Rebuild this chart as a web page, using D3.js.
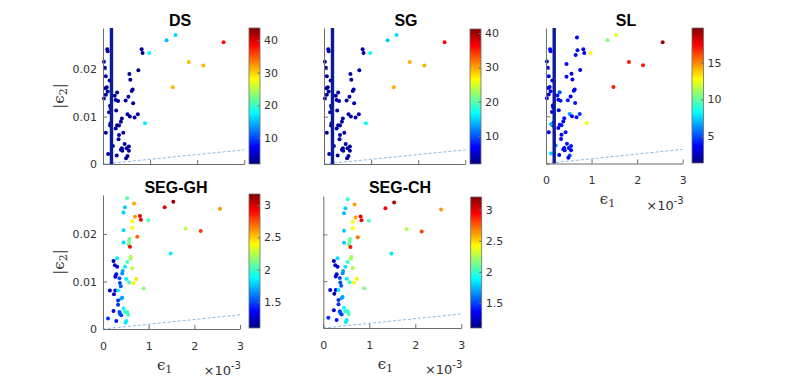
<!DOCTYPE html>
<html><head><meta charset="utf-8">
<script src="https://cdn.jsdelivr.net/npm/d3@7"></script>
<style>body{margin:0;background:#fff}svg{display:block}</style>
</head><body>
<svg id="c" width="789" height="381"></svg>
<script>
// ---------------- DATA ----------------
// epsilon_1 values are in units of 1e-3 (axis shows x10^-3), epsilon_2 in real units
const dsE1=[0.09,0.10,0.02,0.04,0.06,0.05,0.08,0.14,0.10,0.06,0.02,0.25,0.30,0.27,0.32,0.15,0.16,0.13,0.28,0.16,0.15,0.06,0.30,0.34,0.27,0.40,0.38,0.34,0.43,0.33,0.46,0.40,0.41,0.38,0.50,0.55,0.55,0.52,0.49,0.29,0.11,0.21,0.48,0.54,0.61,0.63,0.64,0.56,0.58,0.75,0.82,0.84,0.52,0.57,0.67,0.74,0.98,0.89,1.35,1.54,2.56,1.82,2.13,1.48];
const dsE2=[0.0242,0.0238,0.0216,0.0203,0.0185,0.0160,0.0162,0.0176,0.0153,0.0146,0.0138,0.0144,0.0151,0.0135,0.0133,0.0123,0.0118,0.0109,0.0113,0.0086,0.0081,0.0066,0.0082,0.0081,0.0075,0.0096,0.0089,0.0061,0.0066,0.0052,0.0042,0.0033,0.0028,0.0030,0.0033,0.0037,0.0028,0.0017,0.0012,0.0018,0.0021,0.0038,0.0134,0.0142,0.0154,0.0157,0.0128,0.0190,0.0178,0.0198,0.0242,0.0234,0.0105,0.0100,0.0098,0.0105,0.0234,0.0086,0.0261,0.0272,0.0257,0.0215,0.0208,0.0162];
const dsVal=[3,3,2.5,3,3,2.5,3,3, 3,2.5,3,3.5,3,3,3.5,3, 3,3,3,3,3,2.5,3,3.5, 3,3.5,3,3,3.5,3,3.5,3, 3,3,3.5,3.5,3,3.5,3,3, 3,3,3.5,3,3,3,3.5,3, 3,3,3,3,3.5,3,3.5,3, 17.5,17,15,16,38,31,31,31];
const sgE1=dsE1, sgE2=dsE2;
const sgVal=[3,3,2.5,3,3,2.5,3,3, 3,2.5,3,3.5,3,3,3.5,3, 3,3,3,3,3,2.5,3,3.5, 3,3.5,3,3,3.5,3,3.5,3, 3,3,3.5,3.5,3,3.5,3,3, 3,3,3.5,3,3,3,3.5,3, 3,3,3,3,3.5,3,3.5,3, 16.5,16.5,14.5,15.5,36,29.5,29.5,29.5];
const slE1=[0.09,0.10,0.02,0.04,0.06,0.05,0.08,0.14,0.10,0.06,0.02,0.25,0.30,0.27,0.32,0.15,0.16,0.13,0.28,0.16,0.15,0.06,0.30,0.34,0.27,0.40,0.38,0.34,0.43,0.33,0.46,0.40,0.41,0.38,0.50,0.55,0.55,0.52,0.49,0.29,0.11,0.21,0.48,0.54,0.61,0.63,0.64,0.56,0.58,0.75,0.82,0.84,0.52,0.57,0.67,0.74,0.68,0.69,0.65,0.45,0.45,0.11,0.98,0.89,1.35,1.54,2.56,1.82,2.13,1.48];
const slE2=[0.0242,0.0238,0.0216,0.0203,0.0185,0.0160,0.0162,0.0176,0.0153,0.0146,0.0138,0.0144,0.0151,0.0135,0.0133,0.0123,0.0118,0.0109,0.0113,0.0086,0.0081,0.0066,0.0082,0.0081,0.0075,0.0096,0.0089,0.0061,0.0066,0.0052,0.0042,0.0033,0.0028,0.0030,0.0033,0.0037,0.0028,0.0017,0.0012,0.0018,0.0021,0.0038,0.0134,0.0142,0.0154,0.0157,0.0128,0.0190,0.0178,0.0198,0.0242,0.0234,0.0105,0.0100,0.0098,0.0105,0.0267,0.0240,0.0230,0.0211,0.0184,0.0083,0.0234,0.0086,0.0261,0.0272,0.0257,0.0215,0.0208,0.0162];
const slVal=[3.5,3.5,3,3.5,3.5,3,3.5,3.5, 3.5,3,3.5,4,5,3.5,4,3.5, 3.5,3.5,3.5,3.5,3.5,3,3.5,4, 3.5,4,3.5,3.5,4,3.5,4,3.5, 3.5,3.5,4,4,3.5,5,3.5,3.5, 7.5,6,4,3.5,3.5,3.5,4,3.5, 3.5,3.5,3.5,3.5,6.5,3.5,4,4.5, 3.5,3.5,3.5,3.5,3.5,7, 12.8,12.6,10.5,12.2,19,17,17,17];
const segE1=[0.53,0.68,0.48,0.45,1.35,1.54,2.56,0.70,0.81,0.83,0.64,0.99,0.64,1.81,2.14,0.45,0.75,0.58,0.57,0.45,0.56,0.59,1.48,0.61,0.60,0.31,0.23,0.53,0.26,0.31,0.48,0.64,0.43,0.42,0.29,0.27,0.36,0.51,0.57,0.73,0.67,0.37,0.39,0.89,0.15,0.27,0.33,0.24,0.42,0.40,0.33,0.33,0.45,0.23,0.37,0.40,0.36,0.48,0.53,0.55,0.29,0.11,0.51,0.49];
const segE2=[0.0275,0.0264,0.0256,0.0245,0.0256,0.0268,0.0253,0.0236,0.0238,0.0230,0.0227,0.0229,0.0213,0.0211,0.0206,0.0208,0.0194,0.0190,0.0185,0.0182,0.0178,0.0173,0.0159,0.0152,0.0148,0.0149,0.0143,0.0141,0.0134,0.0131,0.0131,0.0128,0.0122,0.0117,0.0115,0.0110,0.0107,0.0105,0.0098,0.0105,0.0097,0.0097,0.0090,0.0085,0.0081,0.0081,0.0081,0.0073,0.0066,0.0064,0.0060,0.0051,0.0043,0.0038,0.0032,0.0029,0.0036,0.0036,0.0036,0.0030,0.0017,0.0022,0.0017,0.0013];
const ghVal=[2.05,2.57,1.78,1.78,2.95,3.12,2.6,2.6,2.95,2.95,2.4,2.05,2.4,2.25,2.8,1.8,2.7,2.1,2.1,1.8,2.1,2.9,1.85,2.25,2.2,1.85,1.25,2.0,1.25,1.3,1.85,2.25,1.7,1.65,1.3,1.3,1.5,1.85,2.0,2.45,2.4,1.5,1.55,2.15,1.25,1.3,1.85,1.2,1.7,1.7,1.45,1.45,1.9,1.3,1.5,1.5,1.5,1.95,2.0,2.0,1.4,1.45,1.85,1.85];
const chVal=[1.98,2.6,1.8,1.75,2.95,3.12,2.62,2.6,2.95,2.95,2.4,2.05,2.42,2.25,2.8,1.78,2.7,2.12,2.1,1.78,2.1,2.9,1.85,2.25,2.2,1.82,1.25,2.0,1.25,1.3,1.85,2.25,1.7,1.65,1.3,1.3,1.5,1.85,2.0,2.45,2.4,1.5,1.55,2.15,1.25,1.3,1.85,1.2,1.7,1.7,1.45,1.45,1.9,1.3,1.5,1.5,1.5,1.95,2.0,2.0,1.4,1.45,1.85,1.85];
const refE1=[0,3], refE2=[0,0.003];       // dashed line  |e2| = e1
const thrE1=0.18;                          // vertical threshold line (x1e-3), DS/SG/SL only
const e1Ticks=[0,1,2,3];
const e2Ticks=[0,0.01,0.02];
const dsCbTicks=[10,20,30,40], sgCbTicks=[10,20,30,40], slCbTicks=[5,10,15], segCbTicks=[1.5,2,2.5,3];
const dsCbRange=[2,43.7], sgCbRange=[1.8,41.2], slCbRange=[1.35,19.7], ghCbRange=[1.1,3.17], chCbRange=[1.1,3.2];

// ---------------- LAYOUT ----------------
const panels=[
 {title:"DS",e1:dsE1,e2:dsE2,val:dsVal,cbR:dsCbRange,cbT:dsCbTicks,ax:[103,244.3,28,164],yMax:0.0287,cb:[249,260,28,164],tx:180,ty:26,yLab:true,xLab:false,thr:true},
 {title:"SG",e1:sgE1,e2:sgE2,val:sgVal,cbR:sgCbRange,cbT:sgCbTicks,ax:[324,465.3,28,164],yMax:0.0287,cb:[470,481,29,164],tx:406,ty:26,yLab:false,xLab:false,thr:true},
 {title:"SL",e1:slE1,e2:slE2,val:slVal,cbR:slCbRange,cbT:slCbTicks,ax:[546,682.7,28,163.5],yMax:0.0287,cb:[692,703.5,28,163],tx:626,ty:26,yLab:false,xLab:true,thr:true},
 {title:"SEG-GH",e1:segE1,e2:segE2,val:ghVal,cbR:ghCbRange,cbT:segCbTicks,ax:[103,240,195,329],yMax:0.0282,cb:[249,260,194,328],tx:176,ty:193,yLab:true,xLab:true,thr:false},
 {title:"SEG-CH",e1:segE1,e2:segE2,val:chVal,cbR:chCbRange,cbT:segCbTicks,ax:[323.3,461.3,196,328],yMax:0.0282,cb:[470.7,481.7,197,328],tx:400,ty:193,yLab:false,xLab:true,thr:false}
];

const svg=d3.select("#c");
const AX="#6e6e6e", TX="#333";
const TICKFONT="DejaVu Sans, sans-serif";

function jet(t){
  t=Math.max(0,Math.min(1,t));
  const c=v=>Math.round(255*Math.max(0,Math.min(1,v)));
  return `rgb(${c(1.5-Math.abs(4*t-3))},${c(1.5-Math.abs(4*t-2))},${c(1.5-Math.abs(4*t-1))})`;
}
const defs=svg.append("defs");
const grad=defs.append("linearGradient").attr("id","jet").attr("x1",0).attr("y1",1).attr("x2",0).attr("y2",0);
d3.range(0,65).forEach(i=>grad.append("stop").attr("offset",i/64).attr("stop-color",jet(i/64)));

function styleAxis(g){
  g.select(".domain").attr("stroke",AX).attr("stroke-width",1);
  g.selectAll(".tick line").attr("stroke",AX);
  g.selectAll(".tick text").attr("fill",TX).style("font-family",TICKFONT).style("font-size","11px");
}

panels.forEach(p=>{
  const g=svg.append("g");
  const x=d3.scaleLinear().domain([0,3]).range([p.ax[0],p.ax[1]]);
  const y=d3.scaleLinear().domain([0,p.yMax]).range([p.ax[3],p.ax[2]]);
  const cs=d3.scaleLinear().domain(p.cbR).range([0,1]).clamp(true);

  g.append("path").datum(d3.zip(refE1,refE2))
   .attr("d",d3.line().x(d=>x(d[0])).y(d=>y(d[1])))
   .attr("fill","none").attr("stroke","#6aaae0").attr("stroke-width",0.8).attr("stroke-dasharray","3,2");

  g.append("g").selectAll("circle").data(d3.range(p.e1.length)).join("circle")
   .attr("cx",i=>x(p.e1[i])).attr("cy",i=>y(p.e2[i])).attr("r",2)
   .attr("fill",i=>jet(cs(p.val[i])));

  if(p.thr){
    g.append("line").attr("x1",x(thrE1)).attr("x2",x(thrE1)).attr("y1",y(0)).attr("y2",y(p.yMax))
     .attr("stroke","#0b1c98").attr("stroke-width",3.4);
  }

  const ya=d3.axisLeft(y).tickValues(e2Ticks).tickSizeInner(-4).tickSizeOuter(0).tickPadding(6)
    .tickFormat(p.yLab?(d=>d===0?"0":d3.format(".2f")(d)):(()=>""));
  g.append("g").attr("transform",`translate(${p.ax[0]},0)`).call(ya).call(styleAxis);
  const xa=d3.axisBottom(x).tickValues(e1Ticks).tickSizeInner(-4).tickSizeOuter(0).tickPadding(13)
    .tickFormat(p.xLab?(d=>String(d)):(()=>""));
  g.append("g").attr("transform",`translate(0,${p.ax[3]})`).call(xa).call(styleAxis);

  g.append("text").attr("x",p.tx).attr("y",p.ty).attr("text-anchor","middle")
   .style("font-family","Liberation Sans, Arial, sans-serif").style("font-weight","bold").style("font-size","16px")
   .attr("fill","#000").text(p.title);

  if(p.yLab){
    const cy=(p.ax[2]+p.ax[3])/2;
    const t=g.append("text").attr("transform",`translate(64,${cy}) rotate(-90)`).attr("text-anchor","middle")
     .style("font-family","DejaVu Serif, serif").style("font-size","15px").attr("fill",TX);
    t.append("tspan").text("|ϵ");
    t.append("tspan").attr("dy",3).style("font-size","11px").text("2");
    t.append("tspan").attr("dy",-3).text("|");
  }
  if(p.xLab){
    const yb=p.ax[3]+40.5;
    const t=g.append("text").attr("x",p.ax[0]+0.45*(p.ax[1]-p.ax[0])).attr("y",yb).attr("text-anchor","middle")
     .style("font-family","DejaVu Serif, serif").style("font-size","15px").attr("fill",TX);
    t.append("tspan").text("ϵ");
    t.append("tspan").attr("dy",3).style("font-size","11px").text("1");
    const e=g.append("text").attr("x",p.ax[1]+1).attr("y",p.ax[3]+46).attr("text-anchor","end")
     .style("font-family",TICKFONT).style("font-size","13px").attr("fill",TX);
    e.append("tspan").text("×10");
    e.append("tspan").attr("dy",-6).style("font-size","10px").text("-3");
  }

  const [cx0,cx1,cy0,cy1]=p.cb;
  g.append("rect").attr("x",cx0).attr("y",cy0).attr("width",cx1-cx0).attr("height",cy1-cy0)
   .attr("fill","url(#jet)").attr("stroke",AX).attr("stroke-width",0.8);
  const cby=d3.scaleLinear().domain(p.cbR).range([cy1,cy0]);
  const ca=d3.axisRight(cby).tickValues(p.cbT).tickSizeInner(-2.5).tickSizeOuter(0).tickPadding(4)
    .tickFormat(d=>String(d));
  const cg=g.append("g").attr("transform",`translate(${cx1},0)`).call(ca).call(styleAxis);
  cg.select(".domain").remove();
});
</script>
</body></html>
